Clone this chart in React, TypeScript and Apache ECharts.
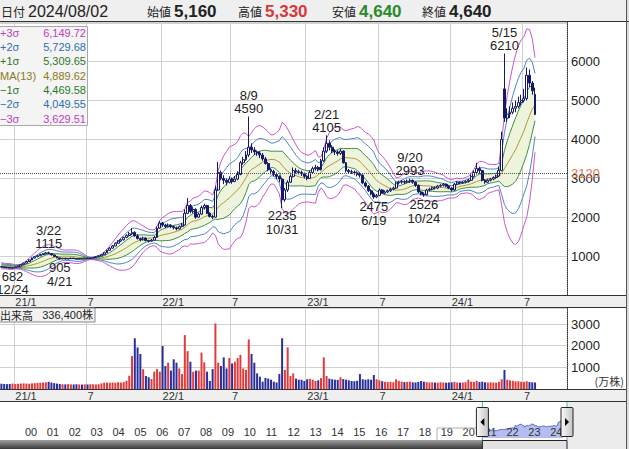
import React, { useEffect, useRef } from "react";
import * as echarts from "echarts";

// ---------- data ----------
const START = Date.UTC(2020, 10, 27); // first weekly candle (Fri)
const WEEK_MS = 7 * 86400000;
const TOTAL_WEEKS = 204; // axis length (data + blank space on the right)

// weekly candles: [open, close, low, high]
const candles: number[][] = [
  [730, 720, 705, 740], [720, 712, 700, 728], [712, 705, 695, 720], [705, 695, 688, 712], [695, 700, 682, 708],
  [700, 725, 698, 732], [725, 745, 718, 752], [745, 780, 740, 790], [780, 820, 775, 830], [820, 860, 812, 872],
  [860, 900, 850, 915], [900, 950, 895, 965], [950, 985, 940, 1000], [985, 1010, 970, 1030], [1010, 1040, 1000, 1060],
  [1040, 1060, 1025, 1080], [1060, 1085, 1045, 1100], [1085, 1065, 1050, 1115], [1065, 1030, 1020, 1075], [1030, 990, 980, 1040],
  [990, 955, 945, 1000], [955, 930, 905, 962], [930, 945, 920, 955], [945, 925, 915, 950], [925, 935, 918, 945],
  [935, 950, 928, 958], [950, 938, 930, 955], [938, 925, 918, 945], [925, 942, 920, 950], [942, 930, 922, 948],
  [930, 948, 925, 955], [948, 940, 932, 955], [940, 952, 935, 960], [952, 965, 945, 975], [965, 985, 958, 995],
  [985, 1005, 978, 1020], [1005, 1035, 1000, 1050], [1035, 1085, 1030, 1100], [1085, 1150, 1080, 1170], [1150, 1205, 1140, 1225],
  [1205, 1260, 1195, 1285], [1260, 1330, 1250, 1350], [1330, 1385, 1320, 1410], [1385, 1420, 1360, 1450], [1420, 1480, 1400, 1500],
  [1480, 1530, 1460, 1560], [1530, 1575, 1500, 1620], [1575, 1610, 1540, 1720], [1610, 1520, 1500, 1640], [1520, 1450, 1430, 1560],
  [1450, 1420, 1380, 1480], [1420, 1465, 1400, 1500], [1465, 1400, 1380, 1480], [1400, 1385, 1350, 1420], [1385, 1410, 1370, 1440],
  [1410, 1480, 1400, 1520], [1480, 1720, 1470, 1760], [1720, 1850, 1700, 1900], [1850, 1800, 1750, 1880], [1800, 1760, 1720, 1830],
  [1760, 1800, 1740, 1840], [1800, 1760, 1720, 1820], [1760, 1730, 1690, 1790], [1730, 1700, 1660, 1760], [1700, 1760, 1680, 1790],
  [1760, 1800, 1740, 1850], [1800, 2100, 1790, 2200], [2100, 2300, 2080, 2490], [2300, 2150, 2100, 2340], [2150, 2200, 2100, 2260],
  [2200, 2000, 1960, 2230], [2000, 2080, 1980, 2120], [2080, 2250, 2060, 2300], [2250, 2300, 2200, 2350], [2300, 2100, 2080, 2320],
  [2100, 2020, 1990, 2130], [2020, 2000, 1950, 2060], [2000, 2700, 1990, 2800], [2700, 3150, 2680, 3420], [3150, 3000, 2950, 3200],
  [3000, 2950, 2850, 3080], [2950, 2900, 2820, 3000], [2900, 2980, 2870, 3050], [2980, 2920, 2860, 3020], [2920, 2980, 2900, 3060],
  [2980, 3100, 2950, 3180], [3100, 3400, 3080, 3450], [3400, 3480, 3350, 3550], [3480, 3600, 3450, 3700], [3600, 3800, 3550, 4590],
  [3800, 3730, 3650, 3900], [3730, 3680, 3600, 3800], [3680, 3650, 3580, 3720], [3650, 3600, 3520, 3700], [3600, 3500, 3450, 3650],
  [3500, 3380, 3350, 3550], [3380, 3220, 3180, 3420], [3220, 3180, 3100, 3260], [3180, 3100, 3050, 3220], [3100, 3050, 2980, 3150],
  [3050, 2980, 2900, 3080], [2980, 2450, 2235, 3000], [2450, 2700, 2400, 2750], [2700, 2900, 2650, 2950], [2900, 3050, 2880, 3100],
  [3050, 3200, 3020, 3280], [3200, 3170, 3120, 3260], [3170, 3150, 3100, 3220], [3150, 3120, 3060, 3200], [3120, 3050, 3000, 3150],
  [3050, 3000, 2950, 3080], [3000, 3150, 2980, 3200], [3150, 3250, 3120, 3300], [3250, 3280, 3200, 3350], [3280, 3220, 3180, 3320],
  [3220, 3450, 3200, 3500], [3450, 3700, 3420, 3800], [3700, 3900, 3650, 4105], [3900, 3800, 3720, 3980], [3800, 3700, 3650, 3850],
  [3700, 3680, 3600, 3750], [3680, 3640, 3580, 3720], [3640, 3700, 3600, 3760], [3700, 3400, 3380, 3720], [3400, 3200, 3150, 3420],
  [3200, 3170, 3120, 3240], [3170, 3160, 3110, 3220], [3160, 3140, 3090, 3200], [3140, 3100, 3050, 3180], [3100, 3080, 3020, 3150],
  [3080, 2880, 2850, 3100], [2880, 2800, 2760, 2920], [2800, 2680, 2650, 2830], [2680, 2600, 2560, 2720], [2600, 2520, 2475, 2640],
  [2520, 2560, 2490, 2600], [2560, 2700, 2540, 2740], [2700, 2620, 2600, 2720], [2620, 2650, 2590, 2690], [2650, 2680, 2620, 2710],
  [2680, 2720, 2650, 2760], [2720, 2750, 2690, 2790], [2750, 2880, 2730, 2920], [2880, 2900, 2840, 2940], [2900, 2920, 2860, 2960],
  [2920, 2900, 2850, 2950], [2900, 2930, 2870, 2970], [2930, 2950, 2880, 2993], [2950, 2900, 2860, 2970], [2900, 2820, 2780, 2920],
  [2820, 2650, 2620, 2840], [2650, 2600, 2560, 2680], [2600, 2580, 2526, 2640], [2580, 2700, 2560, 2730], [2700, 2720, 2660, 2760],
  [2720, 2760, 2690, 2790], [2760, 2750, 2710, 2790], [2750, 2800, 2720, 2830], [2800, 2820, 2770, 2850], [2820, 2850, 2790, 2880],
  [2850, 2800, 2770, 2870], [2800, 2750, 2720, 2820], [2750, 2700, 2660, 2770], [2700, 2850, 2680, 2880], [2850, 2900, 2820, 2930],
  [2900, 2880, 2850, 2920], [2880, 2900, 2860, 2930], [2900, 2920, 2870, 2950], [2920, 2950, 2890, 2990], [2950, 3050, 2930, 3100],
  [3050, 3150, 3020, 3200], [3150, 3250, 3100, 3400], [3250, 3200, 3120, 3300], [3200, 2950, 2920, 3220], [2950, 2900, 2860, 2980],
  [2900, 2950, 2880, 2990], [2950, 2980, 2920, 3010], [2980, 3020, 2950, 3050], [3020, 3060, 2990, 3100], [3060, 3200, 3040, 3300],
  [3200, 4000, 3180, 4200], [5300, 4550, 4450, 6210], [4550, 4650, 4450, 4800], [4650, 4700, 4550, 4850], [4700, 4800, 4650, 4950],
  [4800, 4850, 4700, 5000], [4850, 4950, 4800, 5100], [4950, 5000, 4880, 5150], [5000, 5050, 4950, 5300], [5050, 5650, 5000, 5850],
  [5650, 5450, 5350, 5800], [5450, 5250, 5150, 5500], [5160, 4640, 4640, 5330],
];

// closes of the 12 weeks before the first candle (needed for the 13-week bands)
const priorCloses = [800, 780, 760, 790, 770, 740, 760, 730, 750, 720, 735, 725];

// weekly volume, 万株
const volumes = [
  240, 235, 225, 230, 250, 230, 240, 250, 260, 250, 245, 260, 270, 280, 290, 300, 310,
  330, 300, 270, 250,
  230, 220, 215, 225, 215, 210, 220, 212, 205, 215, 210, 220, 215, 212, 220,
  260, 290, 300, 290, 300, 290, 310, 300, 320, 380,
  610, 1520, 2340, 1920, 1615, 910, 600, 540, 460, 800,
  920, 800, 1985, 1060, 1215, 850, 1370, 1215, 950, 690,
  2490, 1750, 1260, 800, 850, 850, 1680, 1230, 800, 370,
  920, 3030, 1215, 1060, 1460, 950, 1430, 1180, 1260, 1430,
  1570, 950, 880, 2290, 1615, 1215, 720, 570, 340, 510,
  480, 430, 340, 300, 690, 2340, 880, 1920, 600, 720,
  480, 430, 430, 370, 450, 470, 430, 370, 400, 500,
  1460, 600, 480, 450, 430, 420, 540, 460, 430, 400,
  370, 360, 380, 690, 450, 430, 450, 430, 645, 450,
  400, 360, 330, 320, 330, 310, 450, 380, 340, 320,
  330, 340, 310, 300, 330, 370, 340, 320, 300, 310,
  300, 290, 310, 300, 290, 300, 310, 330, 300, 290,
  300, 320, 430, 340, 330, 380, 320, 340, 310, 300,
  310, 300, 290, 330, 450, 880, 430, 400, 380, 350,
  360, 340, 330, 360, 320, 310, 300,
];

// annotated highs / lows: week index, date text, kind
const extremeMarks = [
  { week: 4, date: "12/24", kind: "low" },
  { week: 17, date: "3/22", kind: "high" },
  { week: 21, date: "4/21", kind: "low" },
  { week: 89, date: "8/9", kind: "high" },
  { week: 101, date: "10/31", kind: "low" },
  { week: 117, date: "2/21", kind: "high" },
  { week: 134, date: "6/19", kind: "low" },
  { week: 147, date: "9/20", kind: "high" },
  { week: 152, date: "10/24", kind: "low" },
  { week: 181, date: "5/15", kind: "high" },
];

const bandSigmas = [3, 2, 1, 0, -1, -2, -3];
const legendLabels = ["+3σ", "+2σ", "+1σ", "MA(13)", "−1σ", "−2σ", "−3σ"];
const legendValues = ["6,149.72", "5,729.68", "5,309.65", "4,889.62", "4,469.58", "4,049.55", "3,629.51"];
const bandColors = ["#cc55cc", "#4a86c8", "#3f8f3f", "#aa9a35", "#3f8f3f", "#4a86c8", "#cc55cc"];
const legendTextColors = ["#c040c0", "#3070b0", "#2a7a2a", "#8a7a22", "#2a7a2a", "#3070b0", "#c040c0"];

const referencePrice = 3120;
const headerDate = "2024/08/02";
const headerLabels = ["始値", "高値", "安値", "終値"];
const headerColors = ["#222222", "#d43a3a", "#2a8a2a", "#222222"];
const volumeTitle = "出来高";
const dailyVolumeText = "336,400株";
const volumeUnit = "(万株)";

// ---------- helpers ----------
const FONT = "'Liberation Sans', Arial, 'Noto Sans CJK JP', sans-serif";
const JP = "'Noto Sans CJK JP', 'Liberation Sans', sans-serif";
const UP_VOL = "#e33b3b";
const DOWN_VOL = "#2b2f9e";
const NAVY = "#16196a";

const weekDate = (i: number) => new Date(START + i * WEEK_MS);
const pad2 = (n: number) => (n < 10 ? "0" + n : "" + n);
const categories = Array.from({ length: TOTAL_WEEKS }, (_, i) => {
  const d = weekDate(i);
  return `${d.getUTCFullYear()}-${pad2(d.getUTCMonth() + 1)}-${pad2(d.getUTCDate())}`;
});
const halfYearStart = (index: number) => {
  const d = weekDate(index);
  const m = d.getUTCMonth();
  return (m === 0 || m === 6) && d.getUTCDate() <= 7;
};
const monthLabel = (value: string) => {
  const [y, m] = value.split("-");
  return m === "01" ? `${y.slice(2)}/1` : "7";
};
const yearFrac = (d: Date) => {
  const y = d.getUTCFullYear();
  const s = Date.UTC(y, 0, 1);
  const e = Date.UTC(y + 1, 0, 1);
  return y + (d.getTime() - s) / (e - s);
};

// Bollinger bands (13 weeks)
const closes = candles.map((c) => c[1]);
const allCloses = priorCloses.concat(closes);
const ma: number[] = [];
const sd: number[] = [];
for (let i = 0; i < closes.length; i++) {
  const w = allCloses.slice(i, i + 13);
  const m = w.reduce((a, b) => a + b, 0) / 13;
  ma.push(m);
  sd.push(Math.sqrt(w.reduce((a, b) => a + (b - m) * (b - m), 0) / 13));
}
const bands = bandSigmas.map((k) => ma.map((m, i) => +(m + k * sd[i]).toFixed(2)));

const NAV_MIN = 1999;
const NAV_MAX = 2024.77;

function txt(x: number, y: number, text: string, font: string, fill: string, align = "left", z = 100) {
  return { type: "text", x, y, z, style: { text, font, fill, align, verticalAlign: "middle" } };
}

function buildGraphics(lx: number, rx: number) {
  const g: any[] = [];
  // header
  g.push({ type: "rect", z: -10, shape: { x: 0, y: 0, width: 629, height: 21 }, style: { fill: "#efefef" } });
  g.push({ type: "line", z: 100, shape: { x1: 0, y1: 21.5, x2: 629, y2: 21.5 }, style: { stroke: "#333", lineWidth: 1 } });
  g.push(txt(1, 11.5, "日付", `12px ${JP}`, "#222"));
  g.push(txt(28, 11.5, headerDate, `16px ${FONT}`, "#222"));
  const last = candles[candles.length - 1];
  const headerVals = [last[0], last[3], last[2], last[1]].map((v) => v.toLocaleString("en-US"));
  const hx = [147, 238, 332, 422];
  headerLabels.forEach((l, i) => {
    g.push(txt(hx[i], 11.5, l, `12px ${JP}`, "#222"));
    g.push(txt(hx[i] + 27, 11.5, headerVals[i], `bold 17px ${FONT}`, headerColors[i]));
  });
  // label strips
  [[295.5, 307.5], [389.5, 401.5]].forEach(([a, b]) => {
    g.push({ type: "rect", z: -10, shape: { x: 0, y: a, width: 627, height: b - a }, style: { fill: "#efefef" } });
    g.push({ type: "line", z: 100, shape: { x1: 0, y1: a, x2: 627, y2: a }, style: { stroke: "#333", lineWidth: 1 } });
    g.push({ type: "line", z: 100, shape: { x1: 0, y1: b, x2: 627, y2: b }, style: { stroke: "#333", lineWidth: 1 } });
  });
  // right edge
  g.push({ type: "rect", z: -10, shape: { x: 627, y: 0, width: 2, height: 449 }, style: { fill: "#dcdcdc" } });
  g.push({ type: "line", z: 100, shape: { x1: 626.5, y1: 0, x2: 626.5, y2: 449 }, style: { stroke: "#555", lineWidth: 1 } });
  // navigator right area
  g.push({ type: "rect", z: -10, shape: { x: 567, y: 402, width: 60, height: 47 }, style: { fill: "#ececec" } });
  // legend box
  g.push({ type: "rect", z: 100, shape: { x: -2, y: 26.5, width: 89.5, height: 99 }, style: { fill: "#f4f4f4", stroke: "#a8a8a8", lineWidth: 1 } });
  legendLabels.forEach((l, i) => {
    const y = 32.8 + i * 14.3;
    g.push(txt(0, y, l, `11px ${FONT}`, legendTextColors[i], "left", 101));
    g.push(txt(86, y, legendValues[i], `11px ${FONT}`, legendTextColors[i], "right", 101));
  });
  // volume label box
  g.push({ type: "rect", z: 100, shape: { x: -2, y: 308, width: 97, height: 14 }, style: { fill: "#f2f2f2", stroke: "#888", lineWidth: 1 } });
  g.push(txt(0, 315, volumeTitle, `11px ${JP}`, "#222", "left", 101));
  g.push(txt(93, 315, dailyVolumeText, `11px ${FONT}`, "#222", "right", 101));
  g.push(txt(624, 381, volumeUnit, `11px ${JP}`, "#333", "right"));
  // faint box around 19-20
  g.push({ type: "polyline", z: 50, shape: { points: [[437, 440], [437, 428], [478, 428]] }, style: { stroke: "#b0b0b0", fill: null, lineWidth: 1 } });
  // scrollbar
  g.push({
    type: "rect", z: 100, shape: { x: 0, y: 440, width: lx, height: 9 },
    style: { fill: new echarts.graphic.LinearGradient(0, 0, 0, 1, [{ offset: 0, color: "#a0a0a0" }, { offset: 1, color: "#383838" }]) },
  });
  g.push({ type: "rect", z: 100, shape: { x: lx, y: 440.5, width: rx - lx, height: 9 }, style: { fill: "#e2e2e2", stroke: "#222", lineWidth: 1 } });
  // range lines & handles
  [lx, rx].forEach((x, k) => {
    g.push({ type: "line", z: 110, shape: { x1: x, y1: 402, x2: x, y2: 440 }, style: { stroke: "#5ab0d2", lineWidth: 1 } });
    g.push({
      type: "rect", z: 120, shape: { x: x - 6, y: 407.5, width: 12, height: 29, r: 1 },
      style: { fill: new echarts.graphic.LinearGradient(0, 0, 1, 0, [{ offset: 0, color: "#fafafa" }, { offset: 1, color: "#c4c4c4" }]), stroke: "#222", lineWidth: 1 },
    });
    const pts = k === 0 ? [[x + 2, 418], [x + 2, 426], [x - 2, 422]] : [[x - 2, 418], [x - 2, 426], [x + 2, 422]];
    g.push({ type: "polygon", z: 121, shape: { points: pts }, style: { fill: "#000" } });
  });
  return g;
}

function catAxis(gridIndex: number) {
  return {
    type: "category",
    gridIndex,
    data: categories,
    boundaryGap: true,
    axisLine: { show: false },
    axisTick: { show: false },
    axisLabel: {
      interval: (i: number) => halfYearStart(i),
      formatter: (v: string) => monthLabel(v),
      align: "left",
      margin: 1,
      fontSize: 11,
      color: "#333",
      fontFamily: FONT,
    },
    splitLine: { show: true, interval: (i: number) => halfYearStart(i), lineStyle: { color: "#d0d0d0", width: 1 } },
  };
}

function buildOption(graphic: any[]) {
  const fillLower = bands[4];
  const fillDiff = bands[2].map((v, i) => +(v - bands[4][i]).toFixed(2));
  const navData = closes.map((c, i) => [yearFrac(weekDate(i)), c]);
  return {
    animation: false,
    backgroundColor: "#ffffff",
    textStyle: { fontFamily: FONT },
    grid: [
      { left: 0, top: 22, width: 567, height: 273, show: true, backgroundColor: "#fff", borderWidth: 0 },
      { left: 0, top: 308, width: 567, height: 81, show: true, backgroundColor: "#fff", borderWidth: 0 },
      { left: 0, top: 402, width: 567, height: 36, show: true, backgroundColor: "#fff", borderWidth: 0 },
    ],
    xAxis: [
      catAxis(0),
      catAxis(1),
      {
        type: "value", gridIndex: 2, min: NAV_MIN, max: NAV_MAX, interval: 1, z: 10,
        axisLine: { show: false }, axisTick: { show: false }, splitLine: { show: false },
        axisLabel: {
          inside: true, margin: 1, fontSize: 11, color: "#333", align: "left", fontFamily: FONT,
          formatter: (v: number) => (v >= 2000 && v <= 2024 ? pad2(Math.round(v) - 2000) : ""),
        },
      },
    ],
    yAxis: [
      {
        type: "value", gridIndex: 0, position: "right", min: 0, max: 7020, interval: 1000,
        axisLine: { show: true, lineStyle: { color: "#333", type: "dotted", width: 1 } },
        axisTick: { show: false },
        axisLabel: { margin: 4, fontSize: 13, color: "#222", fontFamily: FONT, formatter: (v: number) => (v >= 1000 && v <= 6000 ? String(v) : "") },
        splitLine: { lineStyle: { color: "#d0d0d0", width: 1 } },
      },
      {
        type: "value", gridIndex: 1, position: "right", min: 0, max: 3740, interval: 1000,
        axisLine: { show: true, lineStyle: { color: "#333", type: "dotted", width: 1 } },
        axisTick: { show: false },
        axisLabel: { margin: 4, fontSize: 13, color: "#222", fontFamily: FONT, formatter: (v: number) => (v >= 1000 && v <= 3000 ? String(v) : "") },
        splitLine: { lineStyle: { color: "#d0d0d0", width: 1 } },
      },
      { type: "value", gridIndex: 2, min: -2200, max: 13300, show: false, splitLine: { show: false } },
    ],
    series: [
      {
        type: "line", xAxisIndex: 0, yAxisIndex: 0, data: fillLower, stack: "bb", symbol: "none",
        lineStyle: { opacity: 0 }, silent: true, z: 1,
      },
      {
        type: "line", xAxisIndex: 0, yAxisIndex: 0, data: fillDiff, stack: "bb", symbol: "none",
        lineStyle: { opacity: 0 }, areaStyle: { color: "#eef4dc", opacity: 1 }, silent: true, z: 1,
      },
      ...bands.map((b, k) => ({
        type: "line", xAxisIndex: 0, yAxisIndex: 0, data: b, symbol: "none", silent: true, z: 2,
        lineStyle: { color: bandColors[k], width: 1 },
      })),
      {
        type: "candlestick", xAxisIndex: 0, yAxisIndex: 0, data: candles, barWidth: 2.4, z: 3,
        itemStyle: { color: "#ffffff", color0: NAVY, borderColor: NAVY, borderColor0: NAVY, borderWidth: 1 },
        markLine: {
          silent: true, symbol: ["none", "none"],
          data: [{ yAxis: referencePrice }],
          lineStyle: { color: "#555", type: "dotted", width: 1 },
          label: { show: true, position: "end", formatter: String(referencePrice), color: "#e0784c", fontSize: 13, distance: 4, fontFamily: FONT },
        },
        markPoint: {
          symbol: "circle", symbolSize: 0, silent: true,
          data: extremeMarks.map((m) => {
            const c = candles[m.week];
            const v = m.kind === "high" ? c[3] : c[2];
            return {
              coord: [m.week, v],
              value: v,
              label: {
                show: true,
                position: m.kind === "high" ? "top" : "bottom",
                distance: 1,
                formatter: m.kind === "high" ? `${m.date}\n${v}` : `${v}\n${m.date}`,
                color: "#222", fontSize: 13, lineHeight: 13.5, fontFamily: FONT, align: "center",
              },
            };
          }),
        },
      },
      {
        type: "bar", xAxisIndex: 1, yAxisIndex: 1, barWidth: 2, silent: true,
        data: volumes.map((v, i) => ({ value: v, itemStyle: { color: candles[i][1] >= candles[i][0] ? UP_VOL : DOWN_VOL } })),
      },
      {
        type: "line", xAxisIndex: 2, yAxisIndex: 2, data: navData, symbol: "none", silent: true, z: 1,
        lineStyle: { color: "#5462c4", width: 1 }, areaStyle: { color: "#b4bdf0", opacity: 1, origin: "start" },
      },
    ],
    graphic,
  };
}

export default function App() {
  const ref = useRef<HTMLDivElement>(null);
  useEffect(() => {
    if (!ref.current) return;
    const chart = echarts.init(ref.current, null, { renderer: "svg" });
    chart.setOption(buildOption(buildGraphics(482, 567)) as any);
    const lx = chart.convertToPixel({ xAxisIndex: 2 } as any, yearFrac(weekDate(0))) as number;
    const rx = chart.convertToPixel({ xAxisIndex: 2 } as any, yearFrac(weekDate(TOTAL_WEEKS))) as number;
    chart.setOption(buildOption(buildGraphics(lx, Math.min(rx, 567))) as any, { notMerge: true });
    return () => chart.dispose();
  }, []);
  return (
    <div
      ref={ref}
      style={{ position: "absolute", left: 0, top: 0, width: 629, height: 449, background: "#fff" }}
    />
  );
}
